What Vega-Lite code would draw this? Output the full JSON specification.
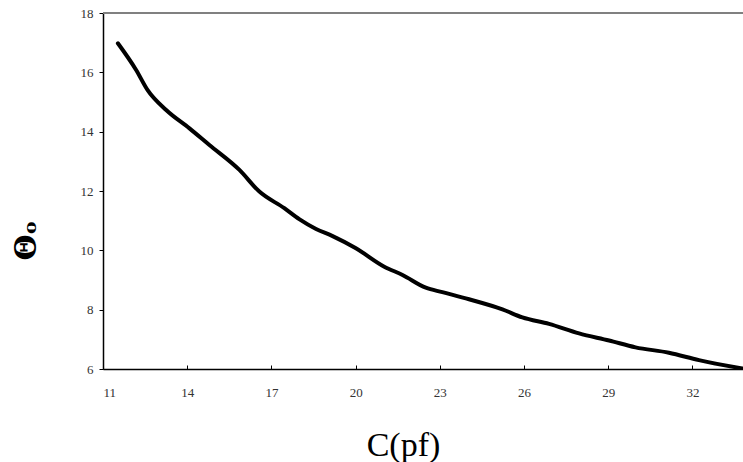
{
  "$schema": "https://vega.github.io/schema/vega-lite/v6.json",
  "autosize": "none",
  "width": 640,
  "height": 356,
  "padding": {"left": 103, "top": 13, "right": 0, "bottom": 93},
  "background": "white",
  "config": {"view": {"stroke": null}},
  "data": {"values": [
    {"c": 11.53, "theta": 16.98},
    {"c": 12.18, "theta": 16.08},
    {"c": 12.59, "theta": 15.40},
    {"c": 13.25, "theta": 14.73},
    {"c": 14.08, "theta": 14.11},
    {"c": 14.79, "theta": 13.55},
    {"c": 15.86, "theta": 12.71},
    {"c": 16.57, "theta": 11.98},
    {"c": 17.46, "theta": 11.42},
    {"c": 17.99, "theta": 11.05},
    {"c": 18.59, "theta": 10.72},
    {"c": 19.18, "theta": 10.48},
    {"c": 20.01, "theta": 10.07},
    {"c": 21.02, "theta": 9.45},
    {"c": 21.67, "theta": 9.17},
    {"c": 22.50, "theta": 8.74},
    {"c": 23.09, "theta": 8.59},
    {"c": 24.04, "theta": 8.35},
    {"c": 25.23, "theta": 8.01},
    {"c": 25.94, "theta": 7.74},
    {"c": 26.89, "theta": 7.52},
    {"c": 27.96, "theta": 7.20},
    {"c": 29.03, "theta": 6.96},
    {"c": 29.97, "theta": 6.73},
    {"c": 31.16, "theta": 6.55},
    {"c": 32.23, "theta": 6.30},
    {"c": 33.77, "theta": 6.02}
  ]},
  "layer": [
    {
      "mark": {"type": "rule", "color": "#808080", "strokeWidth": 1.5},
      "encoding": {"y": {"datum": 18, "type": "quantitative", "scale": {"domain": [6, 18], "nice": false, "zero": false}}}
    },
    {
      "mark": {"type": "line", "color": "black", "strokeWidth": 4, "interpolate": "monotone", "strokeCap": "round", "clip": true},
      "encoding": {
        "x": {
          "field": "c", "type": "quantitative",
          "scale": {"domain": [11, 33.8], "nice": false, "zero": false},
          "axis": {
            "title": "C(pf)",
            "values": [11, 14, 17, 20, 23, 26, 29, 32],
            "grid": false,
            "domainColor": "black", "domainWidth": 1.5,
            "tickColor": "black", "tickSize": -4, "tickWidth": 1,
            "labelPadding": 21,
            "labelFont": "Liberation Serif", "labelFontSize": 13, "labelColor": "#333",
            "labelBaseline": "top",
            "titleFont": "Liberation Serif", "titleFontSize": 34, "titleFontWeight": "normal", "titleColor": "black",
            "titleX": 300, "titleY": 86, "titleAlign": "center", "titleBaseline": "alphabetic"
          }
        },
        "y": {
          "field": "theta", "type": "quantitative",
          "scale": {"domain": [6, 18], "nice": false, "zero": false},
          "axis": {
            "title": "Θₒ",
            "values": [6, 8, 10, 12, 14, 16, 18],
            "grid": false,
            "domainColor": "black", "domainWidth": 1.5,
            "tickColor": "black", "tickSize": 4, "tickWidth": 1,
            "labelPadding": 6,
            "labelFont": "Liberation Serif", "labelFontSize": 13, "labelColor": "#333",
            "titleFont": "DejaVu Serif", "titleFontSize": 30, "titleFontWeight": "bold", "titleColor": "black",
            "titleAngle": 270, "titleX": -68, "titleY": 227, "titleAlign": "center", "titleBaseline": "alphabetic"
          }
        }
      }
    }
  ]
}
